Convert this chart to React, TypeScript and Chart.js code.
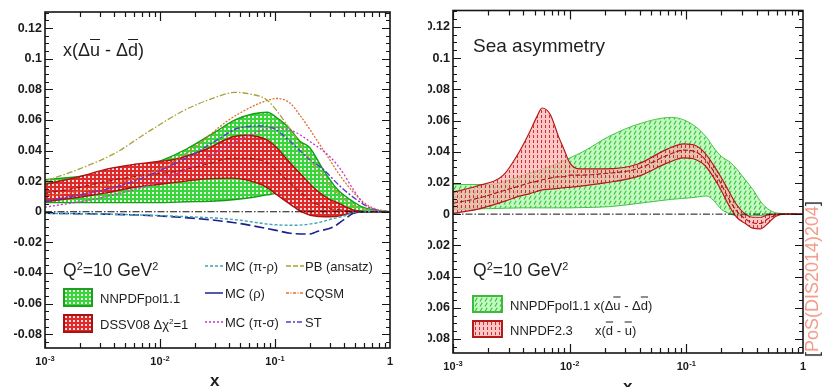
import { useEffect, useMemo, useRef } from "react";
import { Chart, registerables } from "chart.js";

Chart.register(...registerables);

// ---------- axes ----------
const X_MIN = 1e-3;
const X_MAX = 1;
const Y_MIN = -0.089;
const Y_MAX = 0.1305;
const X_TICKS = [0.001, 0.01, 0.1, 1];
const X_TICK_BASES = ["10", "10", "10", "1"];
const X_TICK_EXPS = ["-3", "-2", "-1", ""];
const Y_TICKS = [-0.08, -0.06, -0.04, -0.02, 0, 0.02, 0.04, 0.06, 0.08, 0.1, 0.12];
const Y_TICK_LABELS = ["-0.08", "-0.06", "-0.04", "-0.02", "0", "0.02", "0.04", "0.06", "0.08", "0.1", "0.12"];

// ---------- left panel: x(Δū - Δd̄) ----------
const POL_X = [0.001, 0.002, 0.004, 0.007, 0.01, 0.017, 0.03, 0.045, 0.065, 0.085, 0.11, 0.135, 0.165, 0.2, 0.26, 0.35, 0.45, 0.58, 0.75, 1];
const POL_HI = [0.021, 0.023, 0.026, 0.029, 0.033, 0.041, 0.052, 0.06, 0.064, 0.065, 0.06, 0.054, 0.046, 0.042, 0.028, 0.0145, 0.008, 0.003, 0.001, 0];
const POL_LO = [0.006, 0.006, 0.006, 0.006, 0.006, 0.0065, 0.007, 0.008, 0.0095, 0.011, 0.012, 0.01, 0.005, 0.001, -0.001, -0.001, 0, 0, 0, 0];

const DSSV_X = [0.001, 0.002, 0.0035, 0.006, 0.01, 0.013, 0.0255, 0.043, 0.055, 0.085, 0.1, 0.135, 0.17, 0.23, 0.3, 0.35, 0.42, 0.5, 0.7, 1];
const DSSV_HI = [0.018, 0.023, 0.028, 0.031, 0.033, 0.034, 0.041, 0.049, 0.05, 0.047, 0.043, 0.032, 0.024, 0.014, 0.008, 0.006, 0.003, 0.0008, 0, 0];
const DSSV_LO = [0.0066, 0.0095, 0.0125, 0.016, 0.018, 0.019, 0.0215, 0.022, 0.021, 0.016, 0.012, 0.005, 0, -0.003, -0.0033, -0.003, -0.0015, -0.0005, 0, 0];
const DSSV_MID = [0.012, 0.016, 0.02, 0.023, 0.025, 0.026, 0.031, 0.035, 0.035, 0.032, 0.028, 0.019, 0.012, 0.005, 0.002, 0.0015, 0.0008, 0.0002, 0, 0];

const MC_PIRHO_X = [0.001, 0.003, 0.01, 0.043, 0.1, 0.15, 0.23, 0.32, 0.39, 0.48, 0.6, 1];
const MC_PIRHO_Y = [-0.001, -0.0015, -0.0025, -0.005, -0.0085, -0.0088, -0.0073, -0.0045, -0.003, -0.0005, 0, 0];

const MC_RHO_X = [0.001, 0.003, 0.0115, 0.043, 0.1, 0.135, 0.2, 0.23, 0.32, 0.4, 0.48, 0.6, 1];
const MC_RHO_Y = [-0.001, -0.0015, -0.003, -0.007, -0.012, -0.014, -0.0145, -0.013, -0.01, -0.005, -0.001, 0, 0];

const MC_PISIGMA_X = [0.001, 0.003, 0.01, 0.03, 0.06, 0.1, 0.15, 0.2, 0.3, 0.37, 0.48, 0.58, 0.75, 1];
const MC_PISIGMA_Y = [0.003, 0.009, 0.02, 0.038, 0.05, 0.055, 0.052, 0.046, 0.036, 0.028, 0.0145, 0.006, 0.001, 0];

const PB_X = [0.001, 0.002, 0.004, 0.0082, 0.016, 0.031, 0.045, 0.06, 0.085, 0.135, 0.23, 0.35, 0.51, 0.75, 1];
const PB_Y = [0.02, 0.028, 0.038, 0.053, 0.066, 0.075, 0.078, 0.077, 0.073, 0.054, 0.028, 0.012, 0.003, 0.0005, 0];

const CQSM_X = [0.001, 0.003, 0.01, 0.02, 0.038, 0.057, 0.08, 0.104, 0.135, 0.165, 0.26, 0.39, 0.58, 0.74, 1];
const CQSM_Y = [0.01, 0.016, 0.028, 0.042, 0.059, 0.067, 0.072, 0.074, 0.071, 0.063, 0.041, 0.021, 0.0066, 0.002, 0];

const ST_X = [0.001, 0.002, 0.005, 0.01, 0.02, 0.03, 0.05, 0.08, 0.1, 0.135, 0.2, 0.26, 0.37, 0.51, 0.7, 1];
const ST_Y = [0.007, 0.011, 0.018, 0.027, 0.038, 0.046, 0.055, 0.056, 0.054, 0.046, 0.034, 0.028, 0.0165, 0.008, 0.002, 0];

// ---------- right panel: sea asymmetry ----------
const SEA_POL_X = [0.001, 0.002, 0.004, 0.007, 0.01, 0.013, 0.022, 0.04, 0.075, 0.11, 0.15, 0.17, 0.2, 0.24, 0.27, 0.32, 0.37, 0.45, 0.55, 0.7, 1];
const SEA_POL_HI = [0.019, 0.019, 0.025, 0.031, 0.036, 0.04, 0.05, 0.058, 0.062, 0.058, 0.049, 0.043, 0.037, 0.033, 0.029, 0.022, 0.016, 0.0065, 0.0015, 0.0003, 0];
const SEA_POL_LO = [0.003, 0.0035, 0.004, 0.004, 0.004, 0.0042, 0.0048, 0.007, 0.0095, 0.0105, 0.0116, 0.009, 0.003, 0, -0.001, -0.001, -0.001, -0.0008, -0.0003, 0, 0];

const SEA_23_X = [0.001, 0.0016, 0.0027, 0.0037, 0.0045, 0.0052, 0.0058, 0.0068, 0.008, 0.009, 0.01, 0.012, 0.02, 0.038, 0.07, 0.095, 0.12, 0.145, 0.19, 0.23, 0.27, 0.32, 0.37, 0.43, 0.5, 0.58, 0.7, 1];
const SEA_23_HI = [0.014, 0.018, 0.025, 0.04, 0.052, 0.062, 0.068, 0.064, 0.05, 0.041, 0.033, 0.029, 0.029, 0.032, 0.042, 0.045, 0.044, 0.039, 0.026, 0.015, 0.006, 0, -0.002, -0.002, -0.0005, 0, 0, 0];
const SEA_23_LO = [0.0005, 0.003, 0.008, 0.0115, 0.013, 0.0145, 0.0155, 0.016, 0.0165, 0.017, 0.0172, 0.0178, 0.02, 0.024, 0.033, 0.036, 0.035, 0.031, 0.018, 0.006, -0.002, -0.006, -0.009, -0.0095, -0.006, -0.0015, 0, 0];
const SEA_23_MID = [0.007, 0.01, 0.015, 0.018, 0.02, 0.021, 0.022, 0.023, 0.024, 0.024, 0.025, 0.025, 0.026, 0.029, 0.038, 0.041, 0.04, 0.035, 0.022, 0.01, 0.002, -0.003, -0.0055, -0.006, -0.003, -0.0007, 0, 0];

const FONT = "'Liberation Sans', Arial, Helvetica, sans-serif";

type Pt = { x: number; y: number };
const pts = (xs: number[], ys: number[]): Pt[] => xs.map((x, i) => ({ x, y: ys[i] }));

// small repeating tiles used as hatch fills
function makeTile(kind: string): HTMLCanvasElement {
  const c = document.createElement("canvas");
  const g = c.getContext("2d")!;
  if (kind === "dotGreen") {
    c.width = 4; c.height = 4;
    g.fillStyle = "#3cd43c"; g.fillRect(0, 0, 4, 4);
    g.fillStyle = "#e2ffe2"; g.fillRect(0, 0, 2, 2);
  } else if (kind === "dotRed") {
    c.width = 4; c.height = 4;
    g.fillStyle = "#de2a2a"; g.fillRect(0, 0, 4, 4);
    g.fillStyle = "#ffd8d8"; g.fillRect(0, 0, 2, 2);
  } else if (kind === "slashGreen") {
    c.width = 5; c.height = 5;
    g.fillStyle = "rgba(188,248,188,0.88)"; g.fillRect(0, 0, 5, 5);
    g.strokeStyle = "#2ec42e"; g.lineWidth = 1.1;
    g.beginPath(); g.moveTo(1, 4.5); g.lineTo(3.2, 0.8); g.stroke();
  } else {
    c.width = 4; c.height = 5;
    g.fillStyle = "rgba(248,176,176,0.72)"; g.fillRect(0, 0, 4, 5);
    g.fillStyle = "rgba(214,28,28,0.9)"; g.fillRect(1, 0, 1, 3);
  }
  return c;
}

function band(xs: number[], lo: number[], hi: number[], fill: any, edge: string, width: number, order: number) {
  return [
    { data: pts(xs, lo), borderColor: edge, borderWidth: width, fill: false, order },
    { data: pts(xs, hi), borderColor: edge, borderWidth: width, fill: "-1", backgroundColor: fill, order },
  ];
}

function curve(xs: number[], ys: number[], color: string, dash: number[], width = 1.3, order = 0) {
  return { data: pts(xs, ys), borderColor: color, borderWidth: width, borderDash: dash, fill: false, order };
}

// frame, inward tick marks on all four sides, power-of-ten x labels and the dash-dot zero line
const framePlugin = {
  id: "frame",
  afterDatasetsDraw(chart: any) {
    const { ctx, chartArea: a } = chart;
    const y0 = chart.scales.y.getPixelForValue(0);
    ctx.save();
    ctx.strokeStyle = "#111";
    ctx.lineWidth = 1;
    ctx.setLineDash([7, 2, 1.5, 2]);
    ctx.beginPath();
    ctx.moveTo(a.left, y0);
    ctx.lineTo(a.right, y0);
    ctx.stroke();
    ctx.restore();
  },
  afterDraw(chart: any) {
    const { ctx, chartArea: a } = chart;
    const xs = chart.scales.x;
    const ys = chart.scales.y;
    ctx.save();
    ctx.setLineDash([]);
    ctx.strokeStyle = "#151515";
    ctx.lineWidth = 1.6;
    ctx.strokeRect(a.left, a.top, a.right - a.left, a.bottom - a.top);
    ctx.lineWidth = 1.2;
    ctx.beginPath();
    const step = 0.005;
    for (let k = Math.ceil(ys.min / step); k * step <= ys.max + 1e-9; k++) {
      const len = k % 4 === 0 ? 8 : 4;
      const py = Math.round(ys.getPixelForValue(k * step)) + 0.5;
      ctx.moveTo(a.left, py); ctx.lineTo(a.left + len, py);
      ctx.moveTo(a.right, py); ctx.lineTo(a.right - len, py);
    }
    for (let e = -3; e < 0; e++) {
      for (let m = 1; m < 10; m++) {
        const len = m === 1 ? 9 : 5;
        const px = Math.round(xs.getPixelForValue(m * Math.pow(10, e))) + 0.5;
        ctx.moveTo(px, a.bottom); ctx.lineTo(px, a.bottom - len);
        ctx.moveTo(px, a.top); ctx.lineTo(px, a.top + len);
      }
    }
    ctx.stroke();

    // x tick labels: base with raised exponent, centred on each decade
    ctx.fillStyle = "#1a1a1a";
    ctx.textBaseline = "alphabetic";
    ctx.textAlign = "left";
    const baseFont = `bold 11px ${FONT}`;
    const expFont = `bold 7.5px ${FONT}`;
    const baseline = a.bottom + 17;
    X_TICKS.forEach((v, i) => {
      const px = xs.getPixelForValue(v);
      ctx.font = baseFont;
      const wb = ctx.measureText(X_TICK_BASES[i]).width;
      ctx.font = expFont;
      const we = X_TICK_EXPS[i] ? ctx.measureText(X_TICK_EXPS[i]).width + 0.5 : 0;
      const x0 = px - (wb + we) / 2;
      ctx.font = baseFont;
      ctx.fillText(X_TICK_BASES[i], x0, baseline);
      if (X_TICK_EXPS[i]) {
        ctx.font = expFont;
        ctx.fillText(X_TICK_EXPS[i], x0 + wb + 0.5, baseline - 4.5);
      }
    });
    ctx.restore();
  },
};

function makeChart(canvas: HTMLCanvasElement, datasets: any[], yWidth: number, xHeight: number, padTop: number, padRight: number) {
  return new Chart(canvas, {
    type: "line",
    data: { datasets },
    options: {
      animation: false,
      responsive: false,
      events: [],
      layout: { padding: { top: padTop, right: padRight, left: 0, bottom: 0 } },
      plugins: { legend: { display: false }, tooltip: { enabled: false } },
      elements: { point: { radius: 0 }, line: { cubicInterpolationMode: "monotone" } },
      scales: {
        x: {
          type: "logarithmic",
          min: X_MIN,
          max: X_MAX,
          afterBuildTicks: (s: any) => { s.ticks = X_TICKS.map((v) => ({ value: v, major: true })); },
          afterFit: (s: any) => { s.height = xHeight; },
          grid: { display: false, drawTicks: false },
          border: { display: false },
          ticks: { display: false },
        },
        y: {
          type: "linear",
          min: Y_MIN,
          max: Y_MAX,
          afterBuildTicks: (s: any) => { s.ticks = Y_TICKS.map((v) => ({ value: v })); },
          afterFit: (s: any) => { s.width = yWidth; },
          grid: { display: false, drawTicks: false },
          border: { display: false },
          ticks: {
            autoSkip: false, padding: 3, color: "#1a1a1a",
            font: { family: FONT, weight: "bold", size: 12.5 },
            callback: (_v: any, i: number) => Y_TICK_LABELS[i],
          },
        },
      },
    } as any,
    plugins: [framePlugin],
  });
}

function Txt(props: { left: number; cy: number; size: number; bold?: boolean; color?: string; children: any }) {
  return (
    <div
      style={{
        position: "absolute", left: props.left, top: props.cy, transform: "translateY(-50%)",
        fontSize: props.size, lineHeight: 1, whiteSpace: "nowrap", fontWeight: props.bold ? 700 : 400,
        color: props.color ?? "#1f1f1f",
      }}
    >
      {props.children}
    </div>
  );
}

const Bar = (p: { c: string }) => <span style={{ textDecoration: "overline" }}>{p.c}</span>;
const Sup = (p: { c: string }) => <sup style={{ fontSize: "0.62em", verticalAlign: "0.6em", lineHeight: 0 }}>{p.c}</sup>;

function LineKey(p: { left: number; cy: number; color: string; dash: string }) {
  return (
    <svg style={{ position: "absolute", left: p.left, top: p.cy - 4 }} width={18} height={8}>
      <line x1={0} y1={4} x2={18} y2={4} stroke={p.color} strokeWidth={1.5} strokeDasharray={p.dash} />
    </svg>
  );
}

export default function App() {
  const leftRef = useRef<HTMLCanvasElement | null>(null);
  const rightRef = useRef<HTMLCanvasElement | null>(null);

  const tiles = useMemo(() => {
    const out: Record<string, string> = {};
    for (const k of ["dotGreen", "dotRed", "slashGreen", "barRed"]) out[k] = makeTile(k).toDataURL();
    return out;
  }, []);

  useEffect(() => {
    const lc = leftRef.current!;
    const rc = rightRef.current!;
    const lctx = lc.getContext("2d")!;
    const rctx = rc.getContext("2d")!;
    const pat = (ctx: CanvasRenderingContext2D, k: string) => ctx.createPattern(makeTile(k), "repeat");

    const leftSets = [
      curve(MC_PIRHO_X, MC_PIRHO_Y, "#3aa6b0", [3, 2], 1.4),
      curve(MC_RHO_X, MC_RHO_Y, "#1c2090", [10, 4], 1.6),
      curve(MC_PISIGMA_X, MC_PISIGMA_Y, "#c038c8", [2, 2], 1.3),
      curve(PB_X, PB_Y, "#a9a236", [6, 2, 1.5, 2], 1.3),
      curve(CQSM_X, CQSM_Y, "#e2702a", [2, 1.5], 1.3),
      curve(ST_X, ST_Y, "#5a3ad2", [6, 2, 2, 2], 1.4),
      curve(DSSV_X, DSSV_MID, "#a41414", [5, 3], 1.1, 1),
      ...band(DSSV_X, DSSV_LO, DSSV_HI, pat(lctx, "dotRed"), "#a81212", 1.4, 1),
      ...band(POL_X, POL_LO, POL_HI, pat(lctx, "dotGreen"), "#199a19", 1.4, 2),
    ];
    const rightSets = [
      curve(SEA_23_X, SEA_23_MID, "#a81616", [5, 2], 1.1, 1),
      ...band(SEA_23_X, SEA_23_LO, SEA_23_HI, pat(rctx, "barRed"), "#b41a1a", 1.2, 1),
      ...band(SEA_POL_X, SEA_POL_LO, SEA_POL_HI, pat(rctx, "slashGreen"), "#48c048", 1.0, 2),
    ];

    const left = makeChart(lc, leftSets, 45, 39, 12, 20);
    const right = makeChart(rc, rightSets, 25, 34, 10, 20);
    return () => {
      left.destroy();
      right.destroy();
    };
  }, []);

  const swatch = (left: number, top: number, w: number, h: number, tile: string, edge: string) => (
    <div
      style={{
        position: "absolute", left, top, width: w, height: h, boxSizing: "border-box",
        border: `2px solid ${edge}`, backgroundImage: `url(${tile})`,
      }}
    />
  );

  return (
    <div
      style={{
        position: "fixed", left: 0, top: 0, width: 823, height: 387, background: "#fff",
        overflow: "hidden", fontFamily: FONT, color: "#1f1f1f",
      }}
    >
      <canvas ref={leftRef} width={410} height={387} style={{ position: "absolute", left: 0, top: 0, display: "block" }} />
      <canvas ref={rightRef} width={395} height={387} style={{ position: "absolute", left: 428, top: 0, display: "block" }} />

      {/* left panel annotations */}
      <Txt left={63} cy={50} size={18}>
        x(Δ<Bar c="u" /> - Δ<Bar c="d" />)
      </Txt>
      <Txt left={63} cy={271} size={17.5}>
        Q<Sup c="2" />=10 GeV<Sup c="2" />
      </Txt>
      {swatch(63, 288, 30, 19, tiles.dotGreen, "#1f9e1f")}
      {swatch(63, 314, 30, 19, tiles.dotRed, "#a81212")}
      <Txt left={100} cy={298} size={13}>NNPDFpol1.1</Txt>
      <Txt left={100} cy={324} size={13}>
        DSSV08 Δχ<Sup c="2" />=1
      </Txt>
      <LineKey left={205} cy={266} color="#3aa6b0" dash="3 2" />
      <LineKey left={205} cy={293} color="#1c2090" dash="" />
      <LineKey left={205} cy={322} color="#c038c8" dash="2 2" />
      <LineKey left={286} cy={266} color="#a9a236" dash="5 2" />
      <LineKey left={286} cy={293} color="#e2702a" dash="3 1.5 1 1.5" />
      <LineKey left={286} cy={322} color="#5a3ad2" dash="5 2 2 2" />
      <Txt left={225} cy={266} size={13}>MC (π-ρ)</Txt>
      <Txt left={225} cy={293} size={13}>MC (ρ)</Txt>
      <Txt left={225} cy={322} size={13}>MC (π-σ)</Txt>
      <Txt left={305} cy={266} size={13}>PB (ansatz)</Txt>
      <Txt left={305} cy={293} size={13}>CQSM</Txt>
      <Txt left={305} cy={322} size={13}>ST</Txt>
      <Txt left={210} cy={380} size={17} bold>x</Txt>

      {/* right panel annotations */}
      <Txt left={473} cy={45} size={19}>Sea asymmetry</Txt>
      <Txt left={473} cy={271} size={17.5}>
        Q<Sup c="2" />=10 GeV<Sup c="2" />
      </Txt>
      {swatch(472, 295, 31, 18, tiles.slashGreen, "#3cba3c")}
      {swatch(472, 320, 31, 18, tiles.barRed, "#b41a1a")}
      <Txt left={510} cy={305} size={13}>
        NNPDFpol1.1 x(Δ<Bar c="u" /> - Δ<Bar c="d" />)
      </Txt>
      <Txt left={510} cy={330} size={13}>NNPDF2.3</Txt>
      <Txt left={595} cy={330} size={13}>
        x(<Bar c="d" /> - <Bar c="u" />)
      </Txt>
      <Txt left={623} cy={386} size={17} bold>x</Txt>

      {/* side stamp */}
      <div
        style={{
          position: "absolute", left: 812, top: 279, transform: "translate(-50%, -50%) rotate(-90deg)",
          fontSize: 18, lineHeight: 1, whiteSpace: "nowrap", color: "#f29a88",
        }}
      >
        <span style={{ color: "#333" }}>[</span>PoS(DIS2014)204<span style={{ color: "#333" }}>]</span>
      </div>
    </div>
  );
}
